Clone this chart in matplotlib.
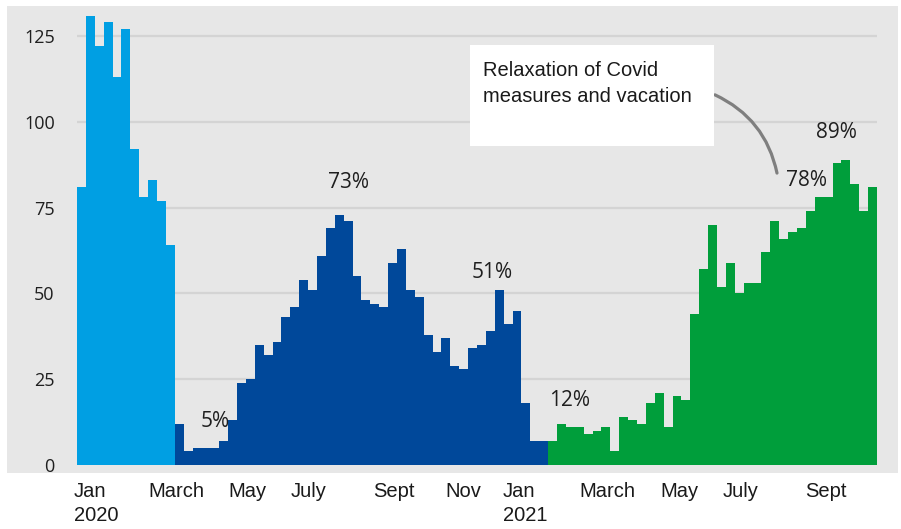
import matplotlib
matplotlib.use("Agg")
import matplotlib.pyplot as plt
from matplotlib.patches import Rectangle, FancyArrowPatch
import numpy as np

# Weekly counts, split into three periods
period1 = [81, 131, 122, 129, 113, 127, 92, 78, 83, 77, 64]
period2 = [12, 4, 5, 5, 5, 7, 13, 24, 25, 35, 32, 36, 43, 46, 54, 51, 61, 69, 73, 71,
           55, 48, 47, 46, 59, 63, 51, 49, 38, 33, 37, 29, 28, 34, 35, 39, 51, 41, 45, 18,
           7, 7]
period3 = [7, 12, 11, 11, 9, 10, 11, 4, 14, 13, 12, 18, 21, 11, 20, 19, 44, 57, 70, 52,
           59, 50, 53, 53, 62, 71, 66, 68, 69, 74, 78, 78, 88, 89, 82, 74, 81]
period_colors = ["#009FE3", "#00489A", "#009E3B"]

month_labels = ["Jan\n2020", "March", "May", "July", "Sept", "Nov", "Jan\n2021",
                "March", "May", "July", "Sept"]
month_pos = [-0.34, 7.99, 16.99, 24.04, 33.3, 41.4, 47.9, 56.5, 65.6, 72.6, 81.9]

y_ticks = [0, 25, 50, 75, 100, 125]

# Percent callouts: bar index, text, (dx, dy) offset of the text from the bar top
pct_bars = [15, 29, 47, 54, 83, 86]
pct_text = ["5%", "73%", "51%", "12%", "78%", "89%"]
pct_offsets = [(0.0, 7.6), (1.0, 9.4), (-0.8, 5.0), (0.96, 6.7), (-1.4, 4.8), (-1.04, 7.8)]

note_text = "Relaxation of Covid\nmeasures and vacation"

W, H = 901, 529
fig = plt.figure(figsize=(W / 100, H / 100), dpi=100)
fig.patch.set_facecolor("white")

# grey panel behind the chart
fig.patches.append(Rectangle((7 / W, (H - 473) / H), 891 / W, 467 / H,
                             transform=fig.transFigure, facecolor="#E7E7E7",
                             edgecolor="none", zorder=-5))

ax = fig.add_axes([77 / W, (H - 465) / H, 800 / W, 459 / H])
ax.set_facecolor("none")
ax.set_zorder(1)

values = period1 + period2 + period3
colors = ([period_colors[0]] * len(period1) + [period_colors[1]] * len(period2)
          + [period_colors[2]] * len(period3))
x = np.arange(len(values))
ax.bar(x, values, width=1.0, align="edge", color=colors, edgecolor="none",
       linewidth=0, zorder=2)

ax.set_xlim(0, len(values))
ax.set_ylim(0, 133.8)
ax.set_yticks(y_ticks)
ax.set_yticklabels([str(v) for v in y_ticks], fontfamily="Open Sans",
                   fontsize=13, color="#1F1F1F")
ax.tick_params(axis="y", length=0, pad=16)
ax.set_xticks([])
ax.yaxis.grid(True, color="#D4D4D4", linewidth=1.6, zorder=1)
ax.set_axisbelow(True)
for s in ax.spines.values():
    s.set_visible(False)

# month labels, left aligned under the bars
for pos, lab in zip(month_pos, month_labels):
    ax.annotate(lab, xy=(pos, 0), xycoords=("data", "axes fraction"),
                xytext=(0, -12.5), textcoords="offset points",
                ha="left", va="top", fontsize=14.5, fontfamily="Liberation Sans",
                color="#1A1A1A", linespacing=1.3, annotation_clip=False)

# percent callouts
for b, t, (dx, dy) in zip(pct_bars, pct_text, pct_offsets):
    ax.text(b + 0.5 + dx, values[b] + dy, t, ha="center", va="center",
            fontsize=15, fontfamily="Open Sans", color="#1F1F1F", zorder=4)

# note box with connector
note_ax = fig.add_axes([470 / W, (H - 146) / H, 244 / W, 101 / H])
note_ax.set_zorder(2)
note_ax.set_facecolor("white")
note_ax.set_xticks([])
note_ax.set_yticks([])
for s in note_ax.spines.values():
    s.set_visible(False)
note_ax.text(13 / 244, 1 - 16 / 101, note_text, transform=note_ax.transAxes,
             ha="left", va="top", fontsize=14.5, fontfamily="Liberation Sans",
             color="#1A1A1A", linespacing=1.45)

conn = FancyArrowPatch(posA=(71.77, 107.9), posB=(78.75, 85.1),
                       connectionstyle="arc3,rad=-0.25", arrowstyle="-",
                       color="#7F7F7F", linewidth=2.3, zorder=4,
                       shrinkA=0, shrinkB=0)
ax.add_patch(conn)
conn.set_clip_on(False)

fig.savefig("out.png", dpi=100, facecolor="white")
